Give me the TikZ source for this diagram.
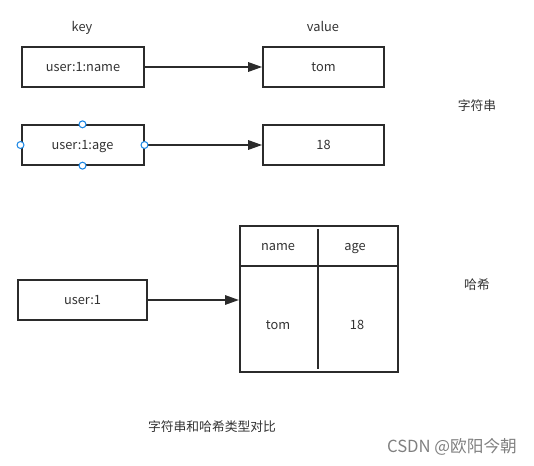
\documentclass[tikz,border=0pt]{standalone}
\usepackage{fontspec}
\setmainfont{Noto Sans CJK SC}
\usetikzlibrary{arrows.meta}
\definecolor{linegray}{HTML}{2B2B2B}
\definecolor{textgray}{HTML}{333333}
\definecolor{handleblue}{HTML}{1E88E5}
\begin{document}
\begin{tikzpicture}[%
    x=0.75pt,
    y=-0.75pt,
    font=\fontsize{9.6}{11}\selectfont,
    text=textgray,
    every node/.style={text height=8pt, text depth=1.2pt},
    keybox/.style={
      rectangle,
      draw=linegray,
      line width=1.5pt,
      minimum width=91.5pt,
      minimum height=29.5pt,
      inner sep=0pt
    },
    valbox/.style={
      rectangle,
      draw=linegray,
      line width=1.5pt,
      minimum width=90.5pt,
      minimum height=29.5pt,
      inner sep=0pt
    },
    link/.style={
      draw=linegray,
      line width=1.5pt,
      -{Triangle[length=10.5pt,width=7pt]}
    },
    handle/.style={
      circle,
      draw=handleblue,
      fill=white,
      line width=0.8pt,
      minimum size=5.2pt,
      inner sep=0pt,
      text height=0pt,
      text depth=0pt
    },
  ]
    \useasboundingbox (0,0) rectangle (534,466);
    % headings
    \node (keylbl) at (82,27) {key};
    \node (vallbl) at (323,27) {value};
    % string type
    \node[keybox] (k1) at (83,67) {user:1:name};
    \node[valbox] (v1) at (323.5,67) {tom};
    \draw[link] (k1) -- (v1);
    \node[keybox] (k2) at (82.5,145) {user:1:age};
    \node[valbox] (v2) at (323.5,145) {18};
    \draw[link] (k2) -- (v2);
    \node[handle] (h1) at (k2.north) {};
    \node[handle] (h2) at (k2.south) {};
    \node[handle] (h3) at (k2.west) {};
    \node[handle] (h4) at (k2.east) {};
    \node (strlbl) at (477,106) {字符串};
    % hash type
    \node[keybox, minimum width=96.5pt] (k3) at (82.5,300) {user:1};
    \node[rectangle, draw=linegray, line width=1.5pt, minimum width=118.5pt,
      minimum height=109.5pt, inner sep=0pt] (tbl) at (319,299) {};
    \coordinate (rowl) at (240,266);
    \coordinate (rowr) at (398,266);
    \coordinate (colt) at (318,229);
    \coordinate (colb) at (318,369);
    \draw[draw=linegray, line width=1.5pt] (rowl) -- (rowr);
    \draw[draw=linegray, line width=1.5pt] (colt) -- (colb);
    \node (f1) at (278,246) {name};
    \node (f2) at (355,246) {age};
    \node (d1) at (278,325) {tom};
    \node (d2) at (357,325) {18};
    \draw[link] (k3.east) -- (tbl.west |- k3.east);
    \node (hashlbl) at (477,285) {哈希};
    % caption
    \node (cap) at (212,427) {字符串和哈希类型对比};
    \node[text=gray, font=\fontsize{12.5}{14}\selectfont] (mark) at (452,448) {CSDN @欧阳今朝};
  \end{tikzpicture}
\end{document}
